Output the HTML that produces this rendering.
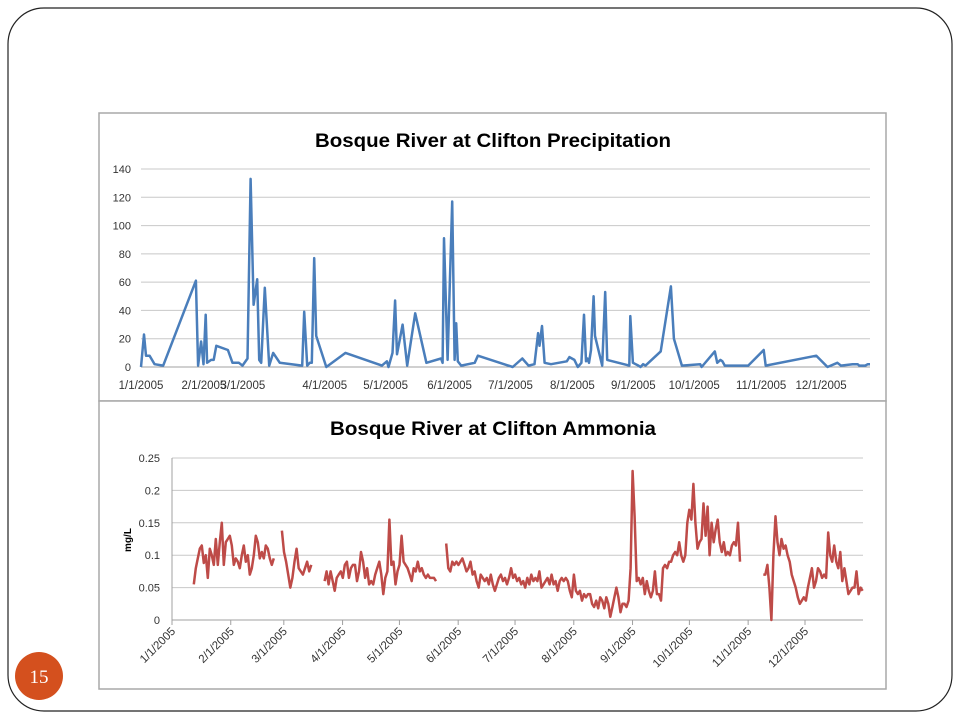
<!DOCTYPE html>
<html><head><meta charset="utf-8"><style>
html,body{margin:0;padding:0;background:#fff;width:960px;height:720px;overflow:hidden}
svg text{font-family:"Liberation Sans",sans-serif}
</style></head><body>
<svg id="s" width="960" height="720" viewBox="0 0 960 720" xmlns="http://www.w3.org/2000/svg">
<rect x="8" y="8" width="944" height="703" rx="36" fill="#fff" stroke="#222" stroke-width="1.2"/>
<circle cx="39" cy="676" r="24" fill="#d4501e"/>
<text x="39" y="683" text-anchor="middle" fill="#fff" font-size="19" style="font-family:'Liberation Serif',serif">15</text>
<g id="topchart">
<rect x="99" y="113" width="787" height="288" fill="#fff" stroke="#a8a8a8" stroke-width="1.5"/>
<text x="493" y="147" text-anchor="middle" font-size="19" font-weight="bold" textLength="356" lengthAdjust="spacingAndGlyphs">Bosque River at Clifton Precipitation</text>
</g>
<g id="botchart">
<rect x="99" y="401" width="787" height="288" fill="#fff" stroke="#a8a8a8" stroke-width="1.5"/>
<text x="493" y="435" text-anchor="middle" font-size="19" font-weight="bold" textLength="326" lengthAdjust="spacingAndGlyphs">Bosque River at Clifton Ammonia</text>
<text transform="translate(131,540) rotate(-90)" text-anchor="middle" font-size="10" font-weight="bold">mg/L</text>
</g>
</svg>
<script>
const precipDays=[0,1.5,2.5,4.3,6.8,11.1,27.5,28.6,30.1,31.3,32.4,33.1,35.1,36.4,37.7,43.5,45.8,49.0,50.8,53.3,54.9,56.4,58.2,59.2,60.2,62.0,64.2,66.2,69.5,80.7,81.7,83.2,84.5,85.5,86.7,87.7,92.8,102.4,120.6,123.1,123.9,125.9,127.2,128.2,131.0,133.3,137.3,142.9,150.2,151.0,151.7,153.5,155.8,157.0,157.8,158.6,160.3,167.1,168.7,186.1,190.9,194.0,197.0,198.8,199.5,200.8,202.1,205.3,213.2,214.5,217.0,218.7,220.5,221.8,222.8,223.5,224.3,225.3,226.6,227.3,230.9,232.4,233.4,244.5,245.0,246.3,249.1,250.1,251.4,252.6,260.2,265.3,266.8,270.8,280.0,280.7,287.3,288.5,290.1,291.1,292.3,304.0,311.8,312.8,338.1,343.7,348.7,350.5,356.3,358.8,359.6,362.6,363.9,365];
const precipValues=[0,23,8,8,2,1,61,1,18,2,37,3,5,5,15,12,3,3,1,6,133,44,62,5,3,56,1,10,3,1,39,1,3,3,77,22,0,10,1,4,0,10,47,9,30,1,38,3,6,3,91,5,117,5,31,4,1,3,8,0,6,1,2,24,15,29,3,2,4,7,5,0,3,37,4,6,3,12,50,22,1,53,5,1,36,3,1,0,2,1,11,57,20,1,2,0,11,3,5,4,1,1,12,1,8,0,3,1,2,2,1,1,2,2];
const precipTickLabels=["1/1/2005","2/1/2005","3/1/2005","4/1/2005","5/1/2005","6/1/2005","7/1/2005","8/1/2005","9/1/2005","10/1/2005","11/1/2005","12/1/2005"];
const precipTickDays=[0,31.5,51,92,122.5,154.5,185,216,246.5,277,310.5,340.5];
const precipYTicks=[0,20,40,60,80,100,120,140];
const amSegStart=[11.5,58,80.5,144.7,312];
const amSegEnd=[53.7,73.5,139.3,299.7,364.4];
const amSeg1=[.055,.08,.095,.11,.115,.088,.1,.065,.11,.1,.085,.125,.085,.12,.15,.085,.12,.125,.13,.115,.085,.095,.09,.08,.1,.115,.09,.1,.07,.08,.1,.13,.12,.095,.105,.095,.115,.11,.095,.085,.095];
const amSeg2=[.138,.105,.09,.07,.05,.065,.09,.11,.08,.075,.07,.08,.09,.075,.085];
const amSeg3=[.06,.075,.055,.075,.06,.045,.065,.07,.075,.065,.085,.09,.065,.08,.085,.085,.06,.075,.105,.09,.065,.08,.055,.06,.055,.07,.08,.09,.07,.04,.065,.075,.155,.085,.09,.055,.075,.085,.13,.09,.085,.08,.07,.06,.08,.075,.09,.075,.08,.07,.065,.07,.065,.065,.065,.06];
const amSeg4=[.118,.08,.075,.09,.085,.09,.085,.09,.095,.085,.075,.08,.09,.07,.075,.06,.05,.07,.065,.06,.065,.055,.07,.055,.045,.055,.065,.07,.06,.065,.055,.065,.08,.065,.07,.06,.065,.055,.06,.05,.065,.055,.07,.06,.065,.06,.075,.05,.055,.06,.065,.055,.07,.055,.06,.045,.06,.065,.06,.065,.06,.045,.035,.07,.045,.04,.045,.03,.04,.035,.04,.04,.025,.02,.03,.018,.035,.03,.018,.035,.025,.005,.02,.035,.05,.035,.012,.025,.025,.02,.03,.08,.23,.16,.06,.065,.055,.065,.04,.06,.045,.035,.045,.075,.04,.04,.03,.08,.085,.08,.09,.09,.1,.105,.1,.12,.1,.09,.1,.15,.17,.155,.21,.15,.11,.12,.125,.18,.13,.175,.1,.15,.12,.14,.155,.12,.105,.12,.1,.105,.1,.115,.12,.115,.15,.09];
const amSeg5=[.07,.07,.085,.05,0,.1,.16,.12,.1,.125,.11,.115,.1,.09,.07,.06,.05,.035,.025,.03,.035,.03,.05,.065,.08,.05,.06,.08,.075,.065,.07,.065,.135,.1,.09,.115,.09,.08,.105,.06,.08,.06,.04,.045,.05,.05,.075,.04,.05,.045];
const amTickLabels=["1/1/2005","2/1/2005","3/1/2005","4/1/2005","5/1/2005","6/1/2005","7/1/2005","8/1/2005","9/1/2005","10/1/2005","11/1/2005","12/1/2005"];
const amTickDays=[0,31,59,90,120,151,181,212,243,273,304,334];
const amYTicks=[0,0.05,0.1,0.15,0.2,0.25];
const amYLabels=["0","0.05","0.1","0.15","0.2","0.25"];

const NS="http://www.w3.org/2000/svg";
function mk(tag,parent,attrs){const e=document.createElementNS(NS,tag);for(const k in attrs)e.setAttribute(k,attrs[k]);parent.appendChild(e);return e;}

const topG=document.getElementById('topchart');
const tx=d=>141+d*(870-141)/365;
const ty=v=>367-v*(367-169)/140;
precipYTicks.forEach(v=>{
  const g=mk('line',topG,{x1:141,x2:870,y1:ty(v),y2:ty(v),stroke:v===0?'#a0a0a0':'#c8c8c8','stroke-width':1});
  
  
  const t=mk('text',topG,{x:131,y:ty(v)+4,'text-anchor':'end','font-size':11,fill:'#333'});
  t.textContent=String(v);
  
  
});
precipTickDays.forEach((d,i)=>{
  const t=mk('text',topG,{x:tx(d),y:389,'text-anchor':'middle','font-size':11.5,fill:'#333'});
  t.textContent=precipTickLabels[i];
  
  
});
{
  const n=Math.min(precipDays.length,precipValues.length);
  const arr=[];
  for(let i=0;i<n;i++)arr.push(tx(precipDays[i]).toFixed(1)+','+ty(precipValues[i]).toFixed(1));
  const p=mk('polyline',topG,{points:arr.join(' '),fill:'none',stroke:'#4a7ebb','stroke-width':2.5,'stroke-linejoin':'round'});
  
  
}

const botG=document.getElementById('botchart');
const bx=d=>172+d*(805-172)/334;
const by=v=>620-v*(620-458)/0.25;
amYTicks.forEach((v,i)=>{
  const g=mk('line',botG,{x1:172,x2:863,y1:by(v),y2:by(v),stroke:v===0?'#a0a0a0':'#c8c8c8','stroke-width':1});
  
  
  const t=mk('text',botG,{x:160,y:by(v)+4,'text-anchor':'end','font-size':11,fill:'#333'});
  t.textContent=amYLabels[i];
  
  
});
mk('line',botG,{x1:172,x2:172,y1:458,y2:620,stroke:'#a0a0a0','stroke-width':1});
amTickDays.forEach((d,i)=>{
  const m=mk('line',botG,{x1:bx(d),x2:bx(d),y1:620,y2:625,stroke:'#a0a0a0','stroke-width':1});
  
  
  const t=mk('text',botG,{transform:'translate('+(bx(d)+4)+',632) rotate(-45)','text-anchor':'end','font-size':11.5,fill:'#333'});
  t.textContent=amTickLabels[i];
  
  
});
[amSeg1,amSeg2,amSeg3,amSeg4,amSeg5].forEach((seg,si)=>{
  const s=amSegStart[si],e=amSegEnd[si],n=seg.length;
  const pts=seg.map((v,i)=>bx(s+(e-s)*i/(n-1)).toFixed(1)+','+by(v).toFixed(1)).join(' ');
  const p=mk('polyline',botG,{points:pts,fill:'none',stroke:'#be4b48','stroke-width':2.5,'stroke-linejoin':'round'});
  
  
});
</script>
</body></html>
